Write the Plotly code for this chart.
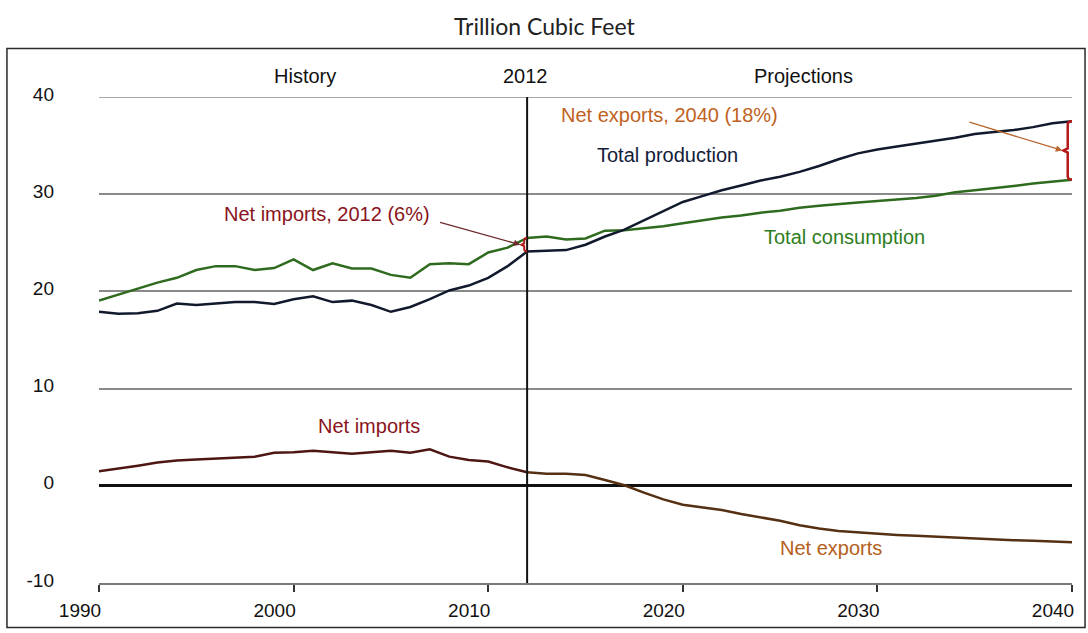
import plotly.graph_objects as go

# U.S. natural gas balance, trillion cubic feet
years = list(range(1990, 2041))
production = [
    17.9, 17.7, 17.75, 18.0, 18.75, 18.6, 18.75, 18.9, 18.9, 18.7,
    19.2, 19.5, 18.9, 19.05, 18.6, 17.9, 18.4, 19.2, 20.1, 20.6,
    21.4, 22.6, 24.1, 24.2, 24.25, 24.8, 25.65, 26.35, 27.3, 28.3,
    29.2, 29.8, 30.4, 30.9, 31.4, 31.8, 32.3, 32.9, 33.6, 34.2,
    34.6, 34.9, 35.2, 35.5, 35.8, 36.2, 36.4, 36.6, 36.9, 37.3,
    37.5,
]
consumption = [
    19.06, 19.7, 20.3, 20.9, 21.4, 22.2, 22.6, 22.6, 22.2, 22.4,
    23.3, 22.2, 22.9, 22.35, 22.35, 21.7, 21.4, 22.8, 22.9, 22.8,
    24.0, 24.5, 25.5, 25.65, 25.35, 25.45, 26.25, 26.3, 26.5, 26.7,
    27.0, 27.3, 27.6, 27.8, 28.1, 28.3, 28.6, 28.8, 29.0, 29.15,
    29.3, 29.45, 29.6, 29.85, 30.2, 30.4, 30.6, 30.85, 31.1, 31.3,
    31.5,
]
net_imports = [
    1.5, 1.75, 2.07, 2.4, 2.6, 2.7, 2.8, 2.9, 3.0, 3.4,
    3.45, 3.6, 3.45, 3.3, 3.45, 3.6, 3.4, 3.75, 3.0, 2.65,
    2.5, 1.9, 1.4, 1.25, 1.25, 1.1, 0.6, 0.05, -0.7, -1.4,
    -1.95, -2.25, -2.5, -2.9, -3.25, -3.6, -4.05, -4.4, -4.65, -4.8,
    -4.95, -5.05, -5.15, -5.25, -5.35, -5.45, -5.55, -5.6, -5.65, -5.7,
    -5.8,
]

base_year = 2012
x_ticks = [1990, 2000, 2010, 2020, 2030, 2040]
y_ticks = [-10, 0, 10, 20, 30, 40]
y_tick_text = ["-10", "0", "10", "20", "30", "40"]

FONT = "Liberation Sans, Arial, sans-serif"
C_PROD = "#111a2c"
C_CONS = "#2f6b1f"
C_IMP = "#4e1612"
C_EXP = "#553013"

split = years.index(base_year)

fig = go.Figure()
fig.add_trace(go.Scatter(x=years, y=consumption, mode="lines",
                         line=dict(color=C_CONS, width=2.5), hoverinfo="skip"))
fig.add_trace(go.Scatter(x=years, y=production, mode="lines",
                         line=dict(color=C_PROD, width=2.5), hoverinfo="skip"))
fig.add_trace(go.Scatter(x=years[:split + 1], y=net_imports[:split + 1], mode="lines",
                         line=dict(color=C_IMP, width=2.5), hoverinfo="skip"))
fig.add_trace(go.Scatter(x=years[split:], y=net_imports[split:], mode="lines",
                         line=dict(color=C_EXP, width=2.5), hoverinfo="skip"))


def brace(x, top, bottom, w=0.22, r=0.35):
    """Left-pointing curly brace between two values at year x."""
    mid = (top + bottom) / 2
    xl = x - w
    return (f"M {x},{top} Q {xl},{top} {xl},{top - r} "
            f"L {xl},{mid + r * 0.6} L {x - 2 * w},{mid} L {xl},{mid - r * 0.6} "
            f"L {xl},{bottom + r} Q {xl},{bottom} {x},{bottom}")


shapes = [
    # outer frame
    dict(type="rect", xref="paper", yref="paper",
         x0=-0.0946, x1=1.0134, y0=-0.0918, y1=1.1,
         line=dict(color="#2a2a2a", width=1.5), layer="below"),
    # top grid line sits on the range edge
    dict(type="line", xref="paper", yref="y", x0=0, x1=1, y0=40, y1=40,
         line=dict(color="#8a8a8a", width=1.5), layer="below"),
    # history / projections divider
    dict(type="line", xref="x", yref="y", x0=base_year, x1=base_year, y0=-10, y1=40,
         line=dict(color="#111111", width=2)),
    # net import share in the base year
    dict(type="path", xref="x", yref="y",
         path=brace(base_year, consumption[split], production[split], w=0.15, r=0.25),
         line=dict(color="#b31a1a", width=2)),
    # net export share at the end of the projection
    dict(type="path", xref="x", yref="y",
         path=brace(years[-1], production[-1], consumption[-1]),
         line=dict(color="#b31a1a", width=2.5)),
]

label_font = dict(family=FONT, size=20, color="#111111")

annotations = [
    dict(text="Trillion Cubic Feet", xref="paper", yref="paper", x=0.4585, y=1.147,
         xanchor="center", yanchor="middle", showarrow=False,
         font=dict(family="Lato, sans-serif", size=23, color="#222222")),
    dict(text="History", xref="x", yref="paper", x=2000.6, y=1.0429,
         yanchor="middle", showarrow=False, font=label_font),
    dict(text="2012", xref="x", yref="paper", x=2011.9, y=1.0429,
         yanchor="middle", showarrow=False, font=label_font),
    dict(text="Projections", xref="x", yref="paper", x=2026.2, y=1.0429,
         yanchor="middle", showarrow=False, font=label_font),
    dict(text="Net exports, 2040 (18%)", x=2019.3, y=38.1, showarrow=False,
         font=dict(family=FONT, size=20, color="#c0621e")),
    dict(text="Total production", x=2019.2, y=34.0, showarrow=False,
         font=dict(family=FONT, size=20, color="#13203a")),
    dict(text="Total consumption", x=2028.3, y=25.6, showarrow=False,
         font=dict(family=FONT, size=20, color="#2f7d22")),
    dict(text="Net imports", x=2003.9, y=6.2, showarrow=False,
         font=dict(family=FONT, size=20, color="#8a1420")),
    dict(text="Net exports", x=2027.6, y=-6.4, showarrow=False,
         font=dict(family=FONT, size=20, color="#b5601c")),
    dict(text="Net imports, 2012 (6%)", x=2001.7, y=28.0, showarrow=False,
         font=dict(family=FONT, size=20, color="#8a1420")),
    # pointer arrows to the braces
    dict(x=base_year - 0.35, y=(consumption[split] + production[split]) / 2,
         ax=2007.45, ay=27.15, axref="x", ayref="y", xref="x", yref="y",
         showarrow=True, arrowhead=2, arrowsize=1, arrowwidth=1.3,
         arrowcolor="#6e2a2a", text=""),
    dict(x=years[-1] - 0.5, y=(production[-1] + consumption[-1]) / 2,
         ax=2034.65, ay=37.45, axref="x", ayref="y", xref="x", yref="y",
         showarrow=True, arrowhead=2, arrowsize=1, arrowwidth=1.3,
         arrowcolor="#b8662e", text=""),
]

fig.update_layout(
    width=1088, height=633,
    margin=dict(l=99, r=16, t=97, b=46),
    paper_bgcolor="white", plot_bgcolor="white",
    showlegend=False,
    shapes=shapes,
    annotations=annotations,
    font=dict(family=FONT, size=19, color="#111111"),
)
fig.update_xaxes(
    range=[1990, 2040], tickvals=x_ticks, showgrid=False, zeroline=False,
    showline=True, linecolor="#7a7a7a", linewidth=1.5,
    ticks="outside", ticklen=7, tickwidth=1.5, tickcolor="#333333",
    ticklabelshift=-19, ticklabelstandoff=2,
    tickfont=dict(family=FONT, size=19, color="#111111"),
)
fig.update_yaxes(
    range=[-10, 40], tickvals=y_ticks, ticktext=y_tick_text,
    showgrid=True, gridcolor="#8a8a8a", gridwidth=1.5,
    zeroline=True, zerolinecolor="#111111", zerolinewidth=2.5,
    showline=False, ticks="", ticklabelstandoff=44, ticklabelshift=-3,
    tickfont=dict(family=FONT, size=19, color="#111111"),
)

fig.write_html("out.html")
